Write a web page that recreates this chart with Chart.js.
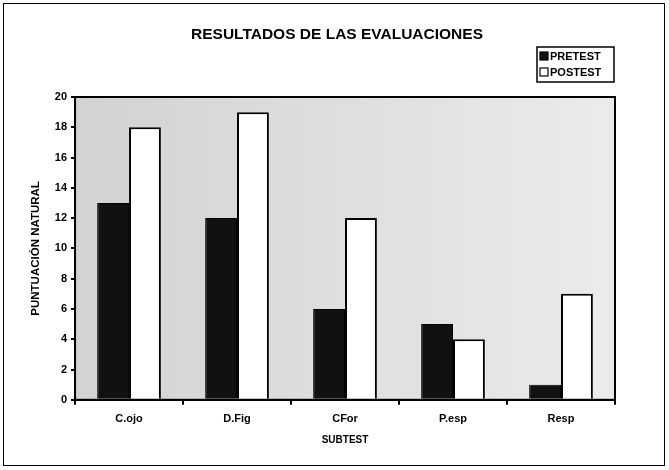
<!DOCTYPE html>
<html>
<head>
<meta charset="utf-8">
<script src="https://cdn.jsdelivr.net/npm/chart.js@4/dist/chart.umd.min.js"></script>
<style>
  html, body { margin: 0; padding: 0; background: #fff; }
  #wrap { width: 669px; height: 470px; }
</style>
</head>
<body>
<div id="wrap"><canvas id="barChart"></canvas></div>
<script>
/*global Chart*/

//----------------------------------------------------------------
/* data */
//----------------------------------------------------------------
var categories = ["C.ojo", "D.Fig", "CFor", "P.esp", "Resp"];
var pretest = [13, 12, 6, 5, 1];
var postest = [18, 19, 12, 4, 7];
var seriesNames = ["PRETEST", "POSTEST"];
var yTicks = [0, 2, 4, 6, 8, 10, 12, 14, 16, 18, 20];
var chartTitle = 'RESULTADOS DE LAS EVALUACIONES';

var FONT = "'Liberation Sans', Arial, sans-serif";

//----------------------------------------------------------------
/* plot background, title, borders, legend box */
//----------------------------------------------------------------
var framePlugin = {
    id: 'frame',
    beforeDraw: function (chart) {
        var c = chart.ctx, a = chart.chartArea;
        c.save();
        var g = c.createLinearGradient(a.left, 0, a.right, 0);
        g.addColorStop(0, '#d2d2d2');
        g.addColorStop(0.4, '#dcdcdc');
        g.addColorStop(1, '#ebebeb');
        c.fillStyle = g;
        c.fillRect(a.left, a.top, a.right - a.left, a.bottom - a.top);
        c.restore();
    },
    afterDraw: function (chart) {
        var c = chart.ctx, a = chart.chartArea;
        c.save();
        // title
        c.fillStyle = '#000';
        c.font = 'bold 15.5px ' + FONT;
        c.textAlign = 'center';
        c.textBaseline = 'middle';
        c.fillText(chartTitle, 337, 35);
        // plot border
        c.strokeStyle = '#000';
        c.lineWidth = 2;
        c.strokeRect(a.left, a.top, a.right - a.left, a.bottom - a.top);
        // outer frame
        c.lineWidth = 1;
        c.strokeRect(3.5, 3.5, 661, 462);
        // legend
        var lx = 537, ly = 47, lw = 77, lh = 35;
        c.lineWidth = 1.5;
        c.strokeRect(lx, ly, lw, lh);
        c.font = 'bold 11px ' + FONT;
        c.textAlign = 'left';
        chart.data.datasets.forEach(function (ds, i) {
            var yy = ly + 9 + i * 16;
            c.fillStyle = ds.backgroundColor;
            c.fillRect(lx + 3, yy - 4, 8, 8);
            c.strokeStyle = '#000';
            c.lineWidth = 1.2;
            c.strokeRect(lx + 3, yy - 4, 8, 8);
            c.fillStyle = '#000';
            c.fillText(ds.label, lx + 13, yy + 1);
        });
        c.restore();
    }
};

var barData = {
    labels: categories,
    datasets: [
        {
            label: seriesNames[0],
            backgroundColor: '#111111',
            borderColor: '#000',
            borderWidth: 1,
            data: pretest
        }, {
            label: seriesNames[1],
            backgroundColor: '#ffffff',
            borderColor: '#000',
            borderWidth: 2,
            data: postest
        }
    ]
};

var barOptions = {
    responsive: true,
    maintainAspectRatio: false,
    animation: false,
    layout: { padding: { left: 29, right: 54, top: 97, bottom: 24 } },
    categoryPercentage: 0.59,
    barPercentage: 1.0,
    plugins: {
        legend: { display: false },
        tooltip: { enabled: false },
        title: { display: false }
    },
    scales: {
        x: {
            grid: { display: true, drawOnChartArea: false, drawTicks: true, tickLength: 5, color: '#000', lineWidth: 2, offset: true },
            border: { display: true, color: '#000', width: 2 },
            ticks: { color: '#000', font: { family: FONT, size: 11, weight: 'bold' }, padding: 8 },
            title: { display: true, text: 'SUBTEST', color: '#000', font: { family: FONT, size: 10, weight: 'bold' }, padding: { top: 0, bottom: 0 } }
        },
        y: {
            min: 0,
            max: 20,
            afterBuildTicks: function (axis) {
                axis.ticks = yTicks.map(function (v) { return { value: v }; });
            },
            grid: { display: true, drawOnChartArea: false, drawTicks: true, tickLength: 4, color: '#000', lineWidth: 2 },
            border: { display: true, color: '#000', width: 2 },
            ticks: { color: '#000', font: { family: FONT, size: 11, weight: 'bold' }, padding: 4 },
            title: { display: true, text: 'PUNTUACIÓN NATURAL', color: '#000', font: { family: FONT, size: 11.5, weight: 'bold' }, padding: { top: 0, bottom: 8 } }
        }
    }
};

var ctx = document.getElementById("barChart").getContext("2d");
new Chart(ctx, { type: 'bar', data: barData, options: barOptions, plugins: [framePlugin] });
</script>
</body>
</html>
